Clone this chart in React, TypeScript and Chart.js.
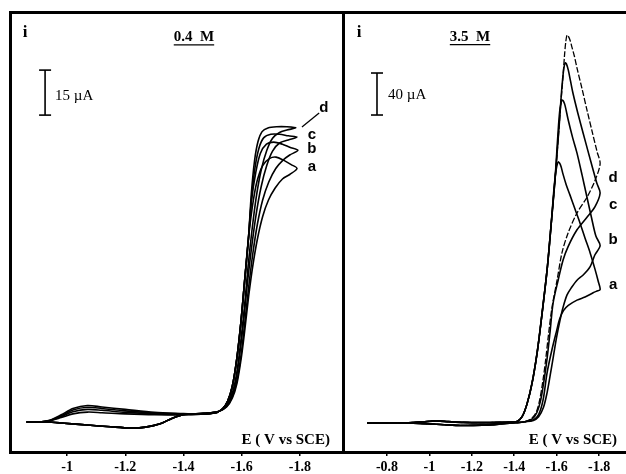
import React, { useEffect, useRef } from 'react';
import { Chart, registerables } from 'chart.js';

Chart.register(...registerables);

type Pt = [number, number];

// ---------- tick labels ----------
const LEFT_TICKS = [-1, -1.2, -1.4, -1.6, -1.8];
const RIGHT_TICKS = [-0.8, -1, -1.2, -1.4, -1.6, -1.8];
const CURVE_NAMES = ['a', 'b', 'c', 'd'];

// ---------- left panel (0.4 M): E (V vs SCE), i (µA) ----------
const L_A_HEAD: Pt[] = [[-0.86, 0], [-0.9, 0], [-0.94, 0.4], [-0.98, 1.5], [-1.02, 2.7], [-1.07, 3.3], [-1.12, 3.1], [-1.2, 2.7], [-1.3, 2.4], [-1.4, 2.4]];
const L_B_HEAD: Pt[] = [[-0.86, 0], [-0.9, 0], [-0.94, 0.4], [-0.98, 1.8], [-1.02, 3.4], [-1.07, 4.2], [-1.12, 3.9], [-1.2, 3.2], [-1.3, 2.7], [-1.4, 2.5]];
const L_C_HEAD: Pt[] = [[-0.86, 0], [-0.9, 0], [-0.94, 0.5], [-0.98, 2.1], [-1.02, 4.0], [-1.07, 4.9], [-1.12, 4.5], [-1.2, 3.7], [-1.3, 3.0], [-1.4, 2.7]];
const L_D_HEAD: Pt[] = [[-0.86, 0], [-0.9, 0], [-0.94, 0.6], [-0.98, 2.4], [-1.02, 4.5], [-1.07, 5.5], [-1.12, 5.0], [-1.2, 4.2], [-1.3, 3.2], [-1.4, 2.8]];
const L_RISE: Pt[] = [[-1.46, 2.6], [-1.49, 2.8], [-1.515, 3.2], [-1.535, 4.5], [-1.552, 7], [-1.568, 12], [-1.583, 21], [-1.597, 33], [-1.61, 47], [-1.623, 61]];
const L_A_TOP: Pt[] = [[-1.637, 72], [-1.652, 80], [-1.672, 85.5], [-1.695, 87.8], [-1.718, 88.3], [-1.745, 87.2], [-1.77, 85.8], [-1.79, 84.5], [-1.765, 82.5], [-1.74, 81], [-1.715, 78], [-1.692, 74], [-1.672, 68.5], [-1.654, 61], [-1.638, 52], [-1.624, 42], [-1.611, 31], [-1.598, 21], [-1.584, 13], [-1.568, 8], [-1.548, 5]];
const L_B_TOP: Pt[] = [[-1.634, 74], [-1.648, 83], [-1.664, 89.5], [-1.685, 92.6], [-1.71, 93.3], [-1.74, 92.6], [-1.765, 91.6], [-1.793, 90.6], [-1.765, 89], [-1.742, 87.3], [-1.717, 84.5], [-1.693, 80], [-1.672, 74], [-1.654, 66], [-1.638, 56], [-1.624, 45], [-1.611, 33.5], [-1.598, 22.5], [-1.584, 14], [-1.568, 8.5], [-1.548, 5.2]];
const L_C_TOP: Pt[] = [[-1.634, 75], [-1.646, 85], [-1.66, 91.5], [-1.676, 94.8], [-1.7, 95.9], [-1.73, 95.9], [-1.76, 95.4], [-1.79, 95], [-1.76, 94], [-1.73, 93], [-1.706, 90.3], [-1.686, 85.5], [-1.667, 78.5], [-1.65, 69.5], [-1.635, 59], [-1.621, 47.5], [-1.608, 35], [-1.595, 24], [-1.582, 15], [-1.567, 9], [-1.548, 5.4]];
const L_D_TOP: Pt[] = [[-1.633, 76], [-1.644, 87], [-1.656, 93.5], [-1.67, 96.8], [-1.69, 98], [-1.72, 98.4], [-1.755, 98.4], [-1.786, 98.1], [-1.755, 97.3], [-1.73, 96.5], [-1.706, 94.6], [-1.686, 90.5], [-1.667, 84], [-1.65, 75], [-1.636, 64.5], [-1.622, 52], [-1.61, 39], [-1.597, 27], [-1.584, 17], [-1.569, 10], [-1.549, 5.6]];
const L_TAIL: Pt[] = [[-1.52, 3.5], [-1.47, 2.9], [-1.4, 2.4], [-1.36, 1.2], [-1.32, -0.6], [-1.27, -1.7], [-1.22, -2], [-1.15, -1.6], [-1.07, -1], [-0.99, -0.4], [-0.93, 0], [-0.86, 0]];
const L_SCALE_BAR: Pt[] = [[-0.9245, 102.3], [-0.9245, 117.3]];
const L_LEADER: Pt[] = [[-1.807, 98.3], [-1.866, 103]];

// ---------- right panel (3.5 M) ----------
const R_HEAD: Pt[] = [[-0.706, 0], [-0.8, 0], [-0.9, 0.3], [-0.97, 1.2], [-1.03, 2], [-1.09, 1.3], [-1.16, 0.6], [-1.25, 0.4], [-1.33, 0.6], [-1.38, 0.9], [-1.413, 1.5], [-1.437, 6], [-1.46, 18], [-1.484, 38], [-1.508, 67], [-1.531, 104], [-1.555, 146], [-1.574, 189]];
const R_A_TOP: Pt[] = [[-1.586, 220], [-1.594, 236], [-1.6, 244], [-1.607, 248.6], [-1.614, 247.5], [-1.621, 244], [-1.63, 237], [-1.645, 227], [-1.663, 217], [-1.686, 204], [-1.71, 190.5], [-1.734, 176], [-1.758, 162], [-1.78, 147], [-1.796, 135], [-1.805, 127], [-1.788, 125.5], [-1.772, 124], [-1.734, 120], [-1.696, 117], [-1.655, 112], [-1.632, 107], [-1.614, 99], [-1.6, 88], [-1.578, 70], [-1.555, 48], [-1.536, 22], [-1.515, 8], [-1.49, 3]];
const R_B_TOP: Pt[] = [[-1.592, 231], [-1.6, 256], [-1.607, 278], [-1.614, 296], [-1.62, 304], [-1.6255, 307.6], [-1.632, 306.5], [-1.64, 302], [-1.654, 289], [-1.675, 272], [-1.696, 257], [-1.72, 236], [-1.743, 215], [-1.765, 195], [-1.785, 178], [-1.805, 169], [-1.78, 160], [-1.758, 149], [-1.725, 141], [-1.696, 136], [-1.67, 129], [-1.649, 122], [-1.63, 110], [-1.616, 98], [-1.6, 82], [-1.585, 64], [-1.57, 46], [-1.555, 29], [-1.538, 15], [-1.515, 6], [-1.49, 2.5]];
const R_C_TOP: Pt[] = [[-1.592, 231], [-1.607, 270], [-1.615, 292], [-1.621, 310], [-1.628, 327], [-1.634, 338], [-1.64, 343], [-1.646, 342], [-1.655, 336], [-1.665, 326], [-1.677, 314], [-1.7, 295], [-1.725, 276], [-1.749, 258], [-1.772, 241], [-1.79, 228], [-1.805, 219], [-1.781, 206], [-1.743, 196], [-1.696, 184], [-1.654, 168], [-1.63, 155], [-1.607, 136], [-1.583, 114], [-1.568, 85], [-1.554, 60], [-1.54, 40], [-1.525, 22], [-1.507, 10], [-1.485, 4]];
const R_D_TOP: Pt[] = [[-1.592, 231], [-1.607, 270], [-1.621, 308], [-1.63, 330], [-1.637, 350], [-1.643, 363], [-1.649, 369.5], [-1.656, 368], [-1.664, 364], [-1.672, 358], [-1.684, 349], [-1.696, 338], [-1.72, 318], [-1.743, 298], [-1.768, 277], [-1.791, 258], [-1.805, 247], [-1.781, 231], [-1.743, 215], [-1.696, 200], [-1.654, 181], [-1.625, 162], [-1.602, 136], [-1.578, 110], [-1.562, 85], [-1.548, 60], [-1.535, 40], [-1.52, 22], [-1.503, 10], [-1.48, 4]];
const R_TAIL: Pt[] = [[-1.45, 1.2], [-1.4, 0.2], [-1.33, -1], [-1.25, -2], [-1.15, -2.3], [-1.07, -1.6], [-0.98, -0.6], [-0.88, 0], [-0.706, 0]];
const R_SCALE_BAR: Pt[] = [[-0.7528, 293.3], [-0.7528, 333.3]];

const SERIF = '"Liberation Serif", "Times New Roman", serif';
const SANS = '"Liberation Sans", Arial, sans-serif';

// canvas is wider than the page; the overflow is clipped by the container
const CANVAS_W = 680;
const PAGE_W = 626;
const PAGE_H = 474;

type Note = { e: number; i: number; text: string; font: string; align: CanvasTextAlign; underline?: boolean };

type Panel = {
  curves: Pt[][];
  dashedLast: boolean;
  ticks: number[];
  xMin: number; xMax: number; yMin: number; yMax: number;
  padding: { left: number; right: number; top: number; bottom: number };
  rightBorder: boolean;
  extras: Pt[][];
  bar: Pt[];
  notes: Note[];
};

const LEFT_PANEL: Panel = {
  curves: [
    [...L_A_HEAD, ...L_RISE, ...L_A_TOP, ...L_TAIL],
    [...L_B_HEAD, ...L_RISE, ...L_B_TOP, ...L_TAIL],
    [...L_C_HEAD, ...L_RISE, ...L_C_TOP, ...L_TAIL],
    [...L_D_HEAD, ...L_RISE, ...L_D_TOP, ...L_TAIL],
  ],
  dashedLast: false,
  ticks: LEFT_TICKS,
  xMin: -1.948, xMax: -0.804, yMin: -10, yMax: 136.67,
  padding: { left: 10, right: CANVAS_W - 343, top: 12, bottom: 0 },
  rightBorder: true,
  extras: [L_LEADER],
  bar: L_SCALE_BAR,
  notes: [
    { e: -0.856, i: 129.7, text: 'i', font: `bold 17px ${SERIF}`, align: 'center' },
    { e: -1.436, i: 128.2, text: '0.4  M', font: `bold 15px ${SERIF}`, align: 'center', underline: true },
    { e: -0.959, i: 108.7, text: '15 µA', font: `15px ${SERIF}`, align: 'left' },
    { e: -1.903, i: -6, text: 'E ( V vs SCE)', font: `bold 15px ${SERIF}`, align: 'right' },
    { e: -1.8824, i: 104.7, text: CURVE_NAMES[3], font: `bold 15px ${SANS}`, align: 'center' },
    { e: -1.841, i: 95.7, text: CURVE_NAMES[2], font: `bold 15px ${SANS}`, align: 'center' },
    { e: -1.841, i: 91.0, text: CURVE_NAMES[1], font: `bold 15px ${SANS}`, align: 'center' },
    { e: -1.841, i: 85.0, text: CURVE_NAMES[0], font: `bold 15px ${SANS}`, align: 'center' },
  ],
};

const RIGHT_PANEL: Panel = {
  curves: [
    [...R_HEAD, ...R_A_TOP, ...R_TAIL],
    [...R_HEAD, ...R_B_TOP, ...R_TAIL],
    [...R_HEAD, ...R_C_TOP, ...R_TAIL],
    [...R_HEAD, ...R_D_TOP, ...R_TAIL],
  ],
  dashedLast: true,
  ticks: RIGHT_TICKS,
  xMin: -1.927, xMax: -0.5925, yMin: -27.6, yMax: 391.4,
  padding: { left: 343, right: CANVAS_W - PAGE_W, top: 12, bottom: 0 },
  rightBorder: false,
  extras: [],
  bar: R_SCALE_BAR,
  notes: [
    { e: -0.668, i: 371.4, text: 'i', font: `bold 17px ${SERIF}`, align: 'center' },
    { e: -1.1915, i: 367.5, text: '3.5  M', font: `bold 15px ${SERIF}`, align: 'center', underline: true },
    { e: -0.8047, i: 312.4, text: '40 µA', font: `15px ${SERIF}`, align: 'left' },
    { e: -1.885, i: -16.2, text: 'E ( V vs SCE)', font: `bold 15px ${SERIF}`, align: 'right' },
    { e: -1.866, i: 233, text: CURVE_NAMES[3], font: `bold 15px ${SANS}`, align: 'center' },
    { e: -1.866, i: 207.6, text: CURVE_NAMES[2], font: `bold 15px ${SANS}`, align: 'center' },
    { e: -1.866, i: 174.3, text: CURVE_NAMES[1], font: `bold 15px ${SANS}`, align: 'center' },
    { e: -1.866, i: 131.4, text: CURVE_NAMES[0], font: `bold 15px ${SANS}`, align: 'center' },
  ],
};

const fmtTick = (v: number) => String(Number(Number(v).toFixed(1)));

const toXY = (pts: Pt[]) => pts.map(([x, y]) => ({ x, y }));

function notesPlugin(notes: Note[]) {
  return {
    id: 'panelNotes',
    afterDatasetsDraw(chart: any) {
      const { ctx } = chart;
      const xs = chart.scales.x;
      const ys = chart.scales.y;
      ctx.save();
      ctx.fillStyle = '#000';
      ctx.strokeStyle = '#000';
      ctx.textBaseline = 'middle';
      for (const n of notes) {
        ctx.font = n.font;
        ctx.textAlign = n.align;
        const px = xs.getPixelForValue(n.e);
        const py = ys.getPixelForValue(n.i);
        ctx.fillText(n.text, px, py);
        if (n.underline) {
          const w = ctx.measureText(n.text).width;
          const x0 = n.align === 'center' ? px - w / 2 : n.align === 'right' ? px - w : px;
          ctx.lineWidth = 1.3;
          ctx.beginPath();
          ctx.moveTo(x0, py + 7.5);
          ctx.lineTo(x0 + w, py + 7.5);
          ctx.stroke();
        }
      }
      ctx.restore();
    },
  };
}

function buildChart(canvas: HTMLCanvasElement, p: Panel) {
  const curveSets = p.curves.map((pts, k) => {
    const dashed = p.dashedLast && k === p.curves.length - 1;
    return {
      data: toXY(pts),
      showLine: true,
      borderColor: '#000',
      borderWidth: dashed ? 1.3 : 1.6,
      borderDash: dashed ? [6, 2] : [],
      pointRadius: 0,
      tension: 0.3,
      fill: false,
    };
  });
  const extraSets = p.extras.map((pts) => ({
    data: toXY(pts),
    showLine: true,
    borderColor: '#000',
    borderWidth: 1.3,
    pointRadius: 0,
    tension: 0,
    fill: false,
  }));
  const barSet = {
    data: toXY(p.bar),
    showLine: true,
    borderColor: '#000',
    borderWidth: 1.6,
    pointStyle: 'line',
    pointRadius: 6,
    pointBorderWidth: 1.6,
    pointBorderColor: '#000',
    tension: 0,
    fill: false,
  };
  const borderOpt = { display: true, color: '#000', width: 3 };
  const scales: any = {
    x: {
      type: 'linear', position: 'bottom', min: p.xMin, max: p.xMax, reverse: true,
      afterBuildTicks: (s: any) => { s.ticks = p.ticks.map((v) => ({ value: v })); },
      afterFit: (s: any) => { s.height = 22; },
      ticks: {
        color: '#000', font: { family: SERIF, size: 14, weight: 'bold' }, padding: 3,
        autoSkip: false, maxRotation: 0, callback: (v: any) => fmtTick(v),
      },
      grid: { display: true, drawOnChartArea: false, drawTicks: true, tickLength: 4, color: '#000', lineWidth: 1.5 },
      border: borderOpt,
    },
    xTop: {
      type: 'linear', position: 'top', min: p.xMin, max: p.xMax, reverse: true,
      afterFit: (s: any) => { s.height = 0; },
      ticks: { display: false }, grid: { display: false }, border: borderOpt,
    },
    y: {
      type: 'linear', position: 'left', min: p.yMin, max: p.yMax,
      afterFit: (s: any) => { s.width = 0; },
      ticks: { display: false }, grid: { display: false }, border: borderOpt,
    },
  };
  if (p.rightBorder) {
    scales.yRight = {
      type: 'linear', position: 'right', min: p.yMin, max: p.yMax,
      afterFit: (s: any) => { s.width = 0; },
      ticks: { display: false }, grid: { display: false }, border: borderOpt,
    };
  }
  return new Chart(canvas, {
    type: 'scatter',
    data: { datasets: [...curveSets, ...extraSets, barSet] as any },
    options: {
      responsive: false,
      animation: false,
      devicePixelRatio: 1,
      events: [],
      layout: { padding: p.padding },
      plugins: { legend: { display: false }, tooltip: { enabled: false } },
      scales,
    } as any,
    plugins: [notesPlugin(p.notes)],
  });
}

export default function App() {
  const leftRef = useRef<HTMLCanvasElement | null>(null);
  const rightRef = useRef<HTMLCanvasElement | null>(null);

  useEffect(() => {
    const c1 = buildChart(leftRef.current as HTMLCanvasElement, LEFT_PANEL);
    const c2 = buildChart(rightRef.current as HTMLCanvasElement, RIGHT_PANEL);
    return () => {
      c1.destroy();
      c2.destroy();
    };
  }, []);

  const canvasStyle: React.CSSProperties = { position: 'absolute', left: 0, top: 0, width: CANVAS_W, height: PAGE_H };
  return (
    <div style={{ position: 'absolute', left: 0, top: 0, width: PAGE_W, height: PAGE_H, background: '#fff', overflow: 'hidden' }}>
      <canvas ref={leftRef} width={CANVAS_W} height={PAGE_H} style={canvasStyle} />
      <canvas ref={rightRef} width={CANVAS_W} height={PAGE_H} style={canvasStyle} />
    </div>
  );
}
